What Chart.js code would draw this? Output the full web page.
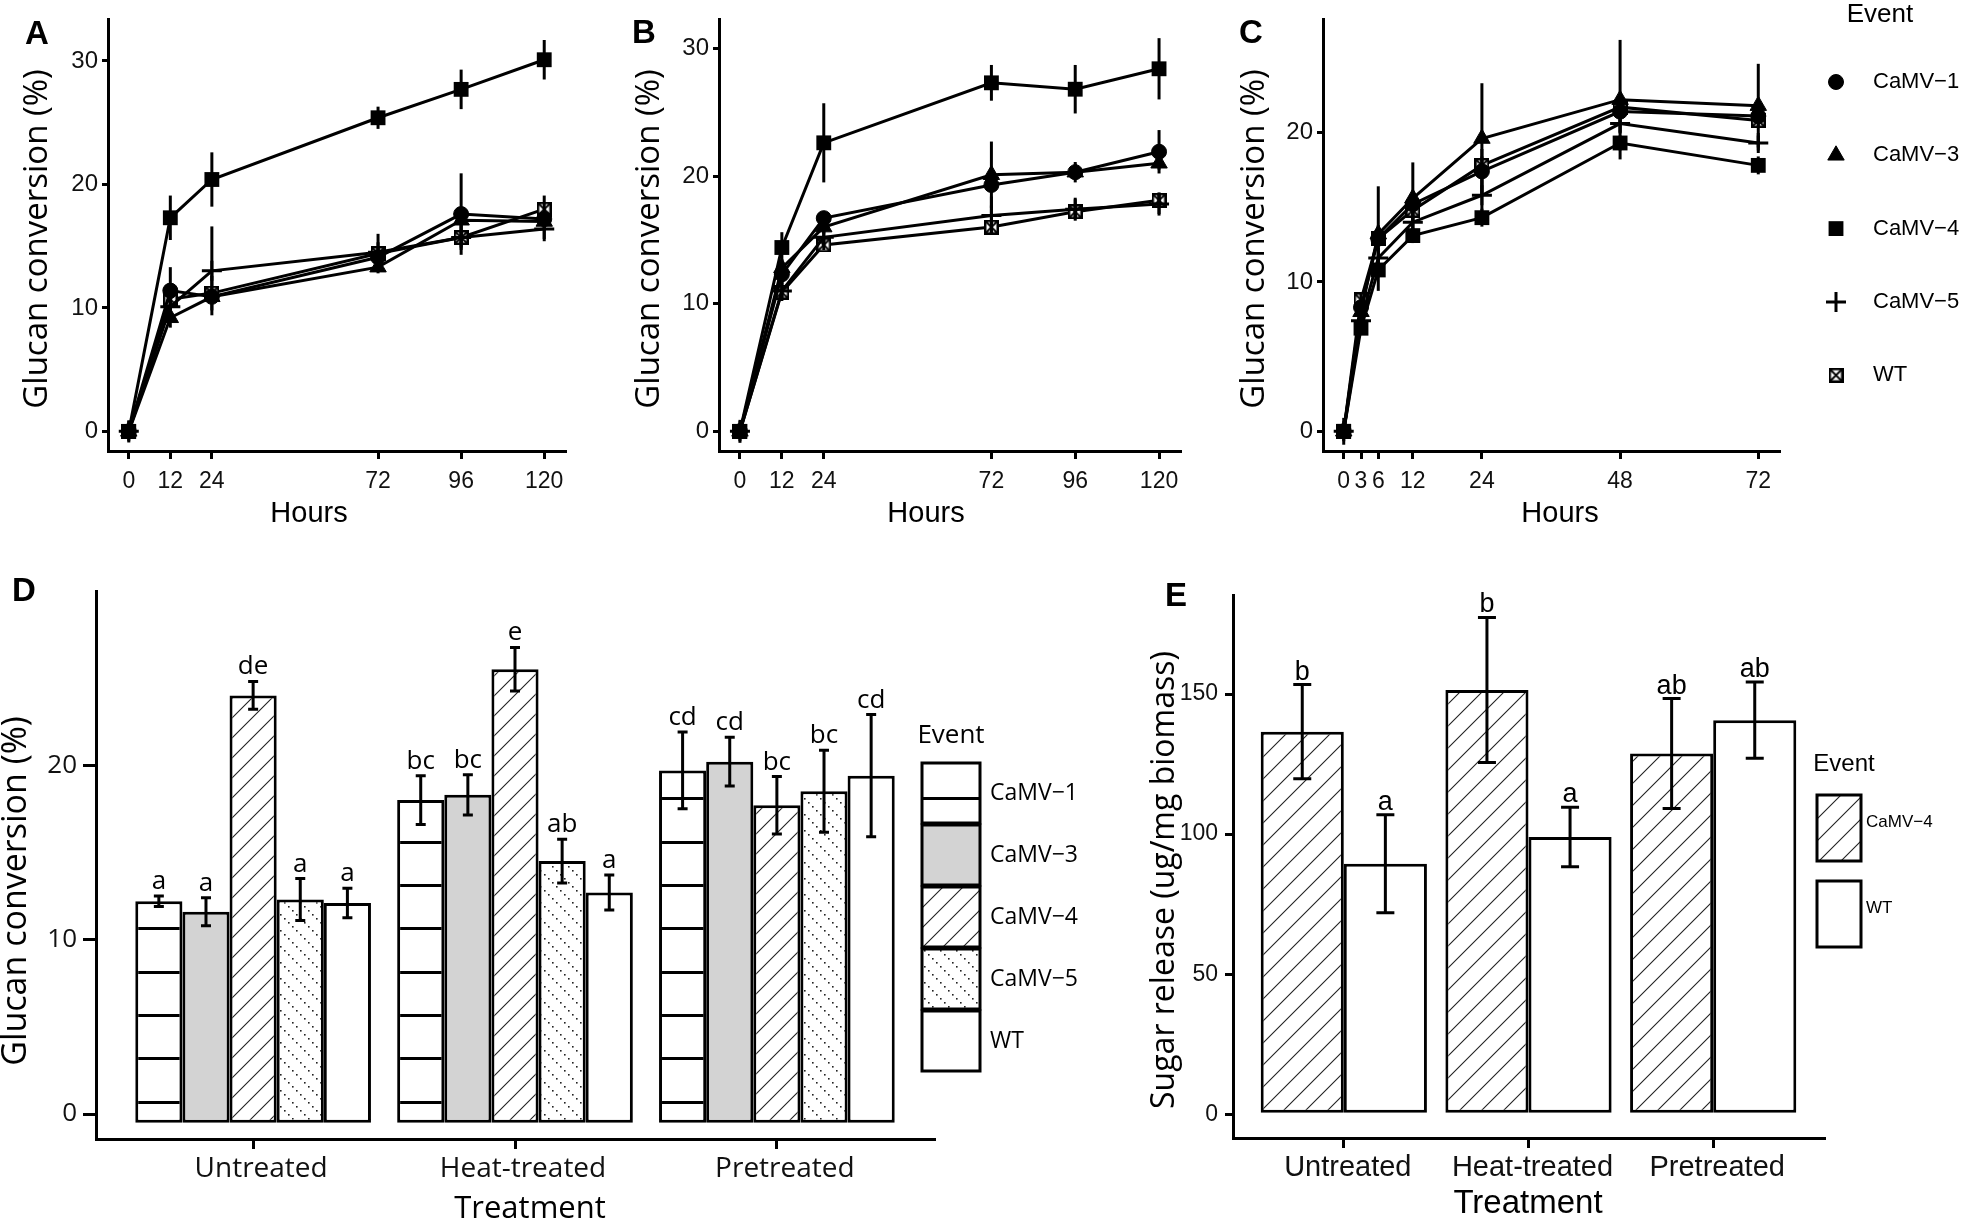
<!DOCTYPE html>
<html lang="en">
<head>
<meta charset="utf-8">
<title>Glucan conversion and sugar release</title>
<script src="https://cdn.jsdelivr.net/npm/chart.js@4.4.1/dist/chart.umd.min.js"></script>
<style>
  html, body { margin: 0; padding: 0; background: #fff; }
  #page { position: relative; width: 1961px; height: 1224px; overflow: hidden; background: #fff; }
  #page canvas { position: absolute; }
</style>
</head>
<body>
<div id="page">
  <canvas id="chartA" width="600" height="560" style="left:0;top:0"></canvas>
  <canvas id="chartB" width="600" height="560" style="left:600px;top:0"></canvas>
  <canvas id="chartC" width="761" height="560" style="left:1200px;top:0"></canvas>
  <canvas id="chartD" width="1120" height="654" style="left:0;top:570px"></canvas>
  <canvas id="chartE" width="841" height="654" style="left:1120px;top:570px"></canvas>
</div>
<script>
// ---------- data ----------
const eventNames = ['CaMV−1', 'CaMV−3', 'CaMV−4', 'CaMV−5', 'WT'];
const treatments = ['Untreated', 'Heat-treated', 'Pretreated'];

// A and B: glucan conversion (%) over 120 h
const hoursAB = [0, 12, 24, 72, 96, 120];
const camv1A = [0, 11.4, 10.9, 14.1, 17.6, 17.2];
const camv3A = [0, 9.2, 10.9, 13.3, 17.1, 17.0];
const camv4A = [0, 17.3, 20.4, 25.4, 27.7, 30.1];
const camv5A = [0, 10.1, 13.0, 14.5, 15.7, 16.4];
const wtA    = [0, 10.7, 11.2, 14.4, 15.7, 18.0];
const camv1A_sd = [0.2, 1.9, 0.6, 0.5, 3.3, 0.5];
const camv3A_sd = [0.2, 0.8, 0.5, 0.5, 0.6, 0.5];
const camv4A_sd = [0.2, 1.8, 2.2, 0.9, 1.6, 1.6];
const camv5A_sd = [0.9, 0.6, 3.6, 1.5, 1.0, 1.0];
const wtA_sd    = [0.2, 0.6, 1.4, 0.5, 0.6, 1.1];

const camv1B = [0, 12.3, 16.7, 19.3, 20.3, 21.9];
const camv3B = [0, 12.8, 16.0, 20.1, 20.3, 21.0];
const camv4B = [0, 14.4, 22.6, 27.3, 26.8, 28.4];
const camv5B = [0, 11.0, 15.2, 16.9, 17.4, 17.8];
const wtB    = [0, 10.9, 14.6, 16.0, 17.2, 18.1];
const camv1B_sd = [0.3, 0.8, 0.4, 0.6, 0.5, 1.7];
const camv3B_sd = [0.3, 0.7, 0.5, 2.6, 0.8, 0.5];
const camv4B_sd = [0.3, 1.2, 3.1, 1.4, 1.9, 2.4];
const camv5B_sd = [0.9, 0.7, 0.5, 1.5, 0.9, 0.9];
const wtB_sd    = [0.3, 0.4, 0.4, 0.5, 0.5, 0.6];

// C: glucan conversion (%) over 72 h
const hoursC = [0, 3, 6, 12, 24, 48, 72];
const camv1C = [0, 8.3, 12.9, 15.2, 17.4, 21.4, 21.1];
const camv3C = [0, 8.0, 13.2, 15.6, 19.6, 22.2, 21.8];
const camv4C = [0, 6.9, 10.8, 13.1, 14.3, 19.3, 17.8];
const camv5C = [0, 7.4, 11.6, 14.0, 15.8, 20.6, 19.3];
const wtC    = [0, 8.8, 12.9, 14.8, 17.8, 21.7, 20.8];
const camv1C_sd = [0.2, 0.4, 0.8, 0.6, 1.5, 0.8, 0.5];
const camv3C_sd = [0.2, 0.4, 0.6, 2.4, 3.7, 4.0, 2.8];
const camv4C_sd = [0.2, 0.4, 0.5, 0.5, 0.6, 0.5, 0.6];
const camv5C_sd = [0.9, 0.4, 0.5, 0.6, 1.2, 0.6, 0.5];
const wtC_sd    = [0.2, 0.5, 3.5, 0.7, 0.6, 0.6, 0.5];

// D: glucan conversion (%) by treatment
const camv1D = [12.2, 18.0, 19.7];
const camv3D = [11.6, 18.3, 20.2];
const camv4D = [24.0, 25.5, 17.7];
const camv5D = [12.3, 14.5, 18.5];
const wtD    = [12.1, 12.7, 19.4];
const camv1D_sd = [0.3, 1.4, 2.2];
const camv3D_sd = [0.8, 1.15, 1.4];
const camv4D_sd = [0.8, 1.25, 1.65];
const camv5D_sd = [1.2, 1.25, 2.35];
const wtD_sd    = [0.85, 1.0, 3.5];
const camv1D_grp = ['a', 'bc', 'cd'];
const camv3D_grp = ['a', 'bc', 'cd'];
const camv4D_grp = ['de', 'e', 'bc'];
const camv5D_grp = ['a', 'ab', 'bc'];
const wtD_grp    = ['a', 'a', 'cd'];

// E: sugar release (ug/mg biomass)
const camv4E = [136.6, 151.5, 128.8];
const wtE    = [89.4, 99.0, 140.7];
const camv4E_sd = [16.8, 25.9, 19.6];
const wtE_sd    = [17.5, 10.6, 13.6];
const camv4E_grp = ['b', 'b', 'ab'];
const wtE_grp    = ['a', 'a', 'ab'];

const ticksAB = [0, 10, 20, 30];
const ticksC = [0, 10, 20];
const ticksD = [0, 10, 20];
const ticksE = [0, 50, 100, 150];

// ---------- styling helpers ----------
const lib = "'Liberation Sans', Arial, sans-serif";
const sans = "'Open Sans', 'DejaVu Sans', sans-serif";
const ink = '#000';

function fixedTicks(values) {
  return function (scale) { scale.ticks = values.map(v => ({ value: v })); };
}

// WT marker: square with a cross inside
function boxCross(size) {
  const c = document.createElement('canvas');
  c.width = size; c.height = size;
  const g = c.getContext('2d');
  g.fillStyle = '#fff';
  g.fillRect(0, 0, size, size);
  g.strokeStyle = ink;
  g.lineWidth = 2.5;
  g.strokeRect(1.25, 1.25, size - 2.5, size - 2.5);
  g.lineWidth = 1.8;
  g.beginPath();
  g.moveTo(2, 2); g.lineTo(size - 2, size - 2);
  g.moveTo(size - 2, 2); g.lineTo(2, size - 2);
  g.stroke();
  return c;
}

const markers = [
  { style: 'circle', radius: 7.5, border: 1 },
  { style: 'triangle', radius: 9.5, border: 1 },
  { style: 'rect', radius: 10.5, border: 0 },
  { style: 'cross', radius: 10, border: 3 },
  { style: boxCross(15), radius: 8, border: 0 }
];

function tile(w, h, draw) {
  const c = document.createElement('canvas');
  c.width = w; c.height = h;
  const g = c.getContext('2d');
  g.fillStyle = '#fff';
  g.fillRect(0, 0, w, h);
  draw(g);
  return g.createPattern(c, 'repeat');
}
function hatch(size) {
  return tile(size, size, g => {
    g.strokeStyle = '#222';
    g.lineWidth = 1.1;
    g.beginPath();
    g.moveTo(-1, size + 1); g.lineTo(size + 1, -1);
    g.moveTo(-1, 1); g.lineTo(1, -1);
    g.moveTo(size - 1, size + 1); g.lineTo(size + 1, size - 1);
    g.stroke();
  });
}
const stripes = tile(4, 130, g => {
  g.fillStyle = ink;
  [12, 55, 98].forEach(y => g.fillRect(0, y - 1, 4, 3));
});
const dotted = tile(16, 16, g => {
  g.fillStyle = '#222';
  for (let i = 0; i < 16; i += 4) g.fillRect(i, i, 1.6, 1.6);
});

function axisGrid(len) {
  return { display: true, offset: false, drawOnChartArea: false, drawTicks: true, tickLength: len, tickWidth: 3, tickColor: ink, color: ink, lineWidth: 3 };
}
const axisBorder = { display: true, color: ink, width: 3 };

// ---------- plugins ----------
const errorBars = {
  id: 'errorBars',
  afterDatasetsDraw(chart, args, opts) {
    const ctx = chart.ctx;
    const y = chart.scales.y;
    ctx.save();
    ctx.strokeStyle = ink;
    ctx.lineWidth = opts.lineWidth;
    chart.data.datasets.forEach((ds, di) => {
      if (!ds.errors) return;
      chart.getDatasetMeta(di).data.forEach((el, i) => {
        const v = ds.data[i].y;
        const top = y.getPixelForValue(v + ds.errors[i]);
        const bottom = y.getPixelForValue(v - ds.errors[i]);
        ctx.beginPath();
        ctx.moveTo(el.x, top);
        ctx.lineTo(el.x, bottom);
        if (opts.cap) {
          ctx.moveTo(el.x - opts.cap, top); ctx.lineTo(el.x + opts.cap, top);
          ctx.moveTo(el.x - opts.cap, bottom); ctx.lineTo(el.x + opts.cap, bottom);
        }
        ctx.stroke();
        if (ds.letters) {
          ctx.fillStyle = ink;
          ctx.font = opts.letterFont;
          ctx.textAlign = 'center';
          ctx.textBaseline = 'alphabetic';
          ctx.fillText(ds.letters[i], el.x, top - opts.letterGap);
        }
      });
    });
    ctx.restore();
  }
};

// panel letter, axis titles and the "Event" legend
const decor = {
  id: 'decor',
  afterDraw(chart, args, opts) {
    const ctx = chart.ctx;
    ctx.save();
    ctx.fillStyle = ink;
    ctx.textBaseline = 'middle';
    ctx.textAlign = 'center';
    if (opts.letter) {
      ctx.font = 'bold 33px ' + lib;
      ctx.fillText(opts.letter.text, opts.letter.x, opts.letter.y);
    }
    (opts.titles || []).forEach(t => {
      ctx.save();
      ctx.font = t.font;
      ctx.translate(t.x, t.y);
      if (t.vertical) ctx.rotate(-Math.PI / 2);
      ctx.fillText(t.text, 0, 0);
      ctx.restore();
    });
    const lg = opts.legend;
    if (lg) {
      ctx.font = lg.titleFont;
      ctx.fillText(lg.title, lg.titleX, lg.titleY);
      chart.data.datasets.forEach((ds, i) => {
        const top = lg.y + i * lg.step;
        let cy = top;
        if (lg.kind === 'points') {
          ctx.fillStyle = ink;
          ctx.strokeStyle = ink;
          ctx.lineWidth = ds.pointBorderWidth;
          Chart.helpers.drawPoint(ctx, { pointStyle: ds.pointStyle, radius: ds.pointRadius, borderWidth: ds.pointBorderWidth, rotation: 0 }, lg.x, top);
        } else {
          ctx.fillStyle = ds.backgroundColor;
          ctx.fillRect(lg.x, top, lg.w, lg.h);
          ctx.strokeStyle = ink;
          ctx.lineWidth = 3;
          ctx.strokeRect(lg.x, top, lg.w, lg.h);
          cy = top + lg.h / 2 + (lg.labelShift || 0);
        }
        ctx.fillStyle = ink;
        ctx.font = lg.font;
        ctx.textAlign = 'left';
        ctx.fillText(ds.label, lg.labelX, cy);
        ctx.textAlign = 'center';
      });
    }
    ctx.restore();
  }
};

// ---------- chart builders ----------
function makeLineChart(id, g) {
  const datasets = g.series.map((ys, k) => ({
    label: eventNames[k],
    data: g.hours.map((h, i) => ({ x: h, y: ys[i] })),
    errors: g.errors[k],
    borderColor: ink,
    backgroundColor: ink,
    borderWidth: 3,
    pointStyle: markers[k].style,
    pointRadius: markers[k].radius,
    pointHoverRadius: markers[k].radius,
    pointBorderWidth: markers[k].border,
    pointBackgroundColor: ink,
    pointBorderColor: ink,
    tension: 0,
    clip: false
  }));
  return new Chart(document.getElementById(id), {
    type: 'line',
    data: { datasets },
    options: {
      responsive: false,
      animation: false,
      events: [],
      layout: { padding: { top: g.padTop, right: g.padRight, left: 0, bottom: 0 } },
      plugins: {
        legend: { display: false },
        tooltip: { enabled: false },
        errorBars: { lineWidth: 3, cap: 0 },
        decor: {
          letter: g.letter,
          legend: g.legend,
          titles: [
            { text: 'Glucan conversion (%)', x: g.yTitleX, y: 239, font: '33px ' + sans, vertical: true },
            { text: 'Hours', x: g.xTitleX, y: 514, font: '29px ' + lib }
          ]
        }
      },
      scales: {
        x: {
          type: 'linear', min: g.xMin, max: g.xMax,
          afterBuildTicks: fixedTicks(g.hours),
          afterFit: s => { s.height = g.xHeight; },
          grid: axisGrid(8),
          border: axisBorder,
          ticks: { font: { family: lib, size: 23 }, color: '#111', padding: 9, autoSkip: false, maxRotation: 0, minRotation: 0 }
        },
        y: {
          type: 'linear', min: g.yMin, max: g.yMax,
          afterBuildTicks: fixedTicks(g.yTicks),
          afterFit: s => { s.width = g.yWidth; },
          grid: axisGrid(6),
          border: axisBorder,
          ticks: { font: { family: lib, size: 24 }, color: '#111', padding: 4 }
        }
      }
    },
    plugins: [errorBars, decor]
  });
}

function makeBarChart(id, g) {
  const datasets = g.series.map((ys, k) => ({
    label: g.names[k],
    data: ys.map((v, i) => ({ x: i + 1, y: v })),
    errors: g.errors[k],
    letters: g.letters[k],
    backgroundColor: g.fills[k],
    borderColor: ink,
    borderWidth: 3,
    borderSkipped: false,
    base: g.base,
    categoryPercentage: 0.9,
    barPercentage: 1
  }));
  return new Chart(document.getElementById(id), {
    type: 'bar',
    data: { datasets },
    options: {
      responsive: false,
      animation: false,
      events: [],
      layout: { padding: { top: g.padTop, right: g.padRight, left: 0, bottom: 0 } },
      plugins: {
        legend: { display: false },
        tooltip: { enabled: false },
        errorBars: { lineWidth: 3, cap: g.cap, letterFont: g.letterFont, letterGap: g.letterGap },
        decor: { letter: g.letter, legend: g.legend, titles: g.titles }
      },
      scales: {
        x: {
          type: 'linear', min: 0.4, max: 3.6, offset: false,
          afterBuildTicks: fixedTicks([1, 2, 3]),
          afterFit: s => { s.height = g.xHeight; },
          grid: axisGrid(10),
          border: axisBorder,
          ticks: { font: g.catFont, color: '#111', padding: 3, labelOffset: g.labelOffset, autoSkip: false, maxRotation: 0, minRotation: 0, callback: v => treatments[v - 1] }
        },
        y: {
          type: 'linear', min: g.yMin, max: g.yMax,
          afterBuildTicks: fixedTicks(g.yTicks),
          afterFit: s => { s.width = g.yWidth; },
          grid: axisGrid(g.yTickLen),
          border: axisBorder,
          ticks: { font: g.yTickFont, color: '#111', padding: g.yTickPad }
        }
      }
    },
    plugins: [errorBars, decor]
  });
}

// ---------- panels ----------
makeLineChart('chartA', {
  hours: hoursAB,
  series: [camv1A, camv3A, camv4A, camv5A, wtA],
  errors: [camv1A_sd, camv3A_sd, camv4A_sd, camv5A_sd, wtA_sd],
  xMin: -6, xMax: 126, yMin: -1.59, yMax: 33.4, yTicks: ticksAB,
  padTop: 19, padRight: 35, yWidth: 108, xHeight: 109,
  yTitleX: 38, xTitleX: 309,
  letter: { text: 'A', x: 37, y: 35 }
});

makeLineChart('chartB', {
  hours: hoursAB,
  series: [camv1B, camv3B, camv4B, camv5B, wtB],
  errors: [camv1B_sd, camv3B_sd, camv4B_sd, camv5B_sd, wtB_sd],
  xMin: -6, xMax: 126, yMin: -1.54, yMax: 32.3, yTicks: ticksAB,
  padTop: 19, padRight: 20, yWidth: 119, xHeight: 109,
  yTitleX: 50, xTitleX: 326,
  letter: { text: 'B', x: 44, y: 34 }
});

makeLineChart('chartC', {
  hours: hoursC,
  series: [camv1C, camv3C, camv4C, camv5C, wtC],
  errors: [camv1C_sd, camv3C_sd, camv4C_sd, camv5C_sd, wtC_sd],
  xMin: -3.6, xMax: 75.6, yMin: -1.32, yMax: 27.6, yTicks: ticksC,
  padTop: 19, padRight: 182, yWidth: 123, xHeight: 109,
  yTitleX: 55, xTitleX: 360,
  letter: { text: 'C', x: 51, y: 34 },
  legend: {
    kind: 'points', title: 'Event', titleX: 680, titleY: 15, titleFont: '26px ' + lib,
    x: 636, y: 82, step: 73.3, labelX: 673, font: '22px ' + lib
  }
});

makeBarChart('chartD', {
  names: eventNames,
  series: [camv1D, camv3D, camv4D, camv5D, wtD],
  errors: [camv1D_sd, camv3D_sd, camv4D_sd, camv5D_sd, wtD_sd],
  letters: [camv1D_grp, camv3D_grp, camv4D_grp, camv5D_grp, wtD_grp],
  fills: [stripes, '#d3d3d3', hatch(20), dotted, '#fff'],
  base: -0.5,
  yMin: -1.43, yMax: 29.95, yTicks: ticksD,
  padTop: 21, padRight: 186, yWidth: 96, xHeight: 85,
  yTickFont: { family: sans, size: 26 }, yTickLen: 13, yTickPad: 6,
  catFont: { family: sans, size: 28 }, labelOffset: 8,
  cap: 5, letterFont: '26px ' + sans, letterGap: 7,
  letter: { text: 'D', x: 24, y: 22 },
  titles: [
    { text: 'Glucan conversion (%)', x: 16, y: 321, font: '34px ' + sans, vertical: true },
    { text: 'Treatment', x: 530, y: 639, font: '31px ' + sans }
  ],
  legend: {
    kind: 'boxes', title: 'Event', titleX: 951, titleY: 166, titleFont: '26px ' + sans,
    x: 922, y: 193, w: 58, h: 60, step: 62, labelX: 990, font: '23px ' + sans
  }
});

makeBarChart('chartE', {
  names: ['CaMV−4', 'WT'],
  series: [camv4E, wtE],
  errors: [camv4E_sd, wtE_sd],
  letters: [camv4E_grp, wtE_grp],
  fills: [hatch(22), '#fff'],
  base: 0,
  yMin: -8.5, yMax: 185.4, yTicks: ticksE,
  padTop: 25, padRight: 137, yWidth: 113, xHeight: 86,
  yTickFont: { family: lib, size: 23 }, yTickLen: 8, yTickPad: 7,
  catFont: { family: lib, size: 29 }, labelOffset: 4,
  cap: 9, letterFont: '27px ' + lib, letterGap: 5,
  letter: { text: 'E', x: 56, y: 27 },
  titles: [
    { text: 'Sugar release (ug/mg biomass)', x: 45, y: 310, font: '32px ' + sans, vertical: true },
    { text: 'Treatment', x: 408, y: 634, font: '33px ' + lib }
  ],
  legend: {
    kind: 'boxes', title: 'Event', titleX: 724, titleY: 194, titleFont: '24px ' + lib,
    x: 697, y: 225, w: 44, h: 66, step: 86, labelX: 746, font: '17px ' + lib, labelShift: -6
  }
});
</script>
</body>
</html>
